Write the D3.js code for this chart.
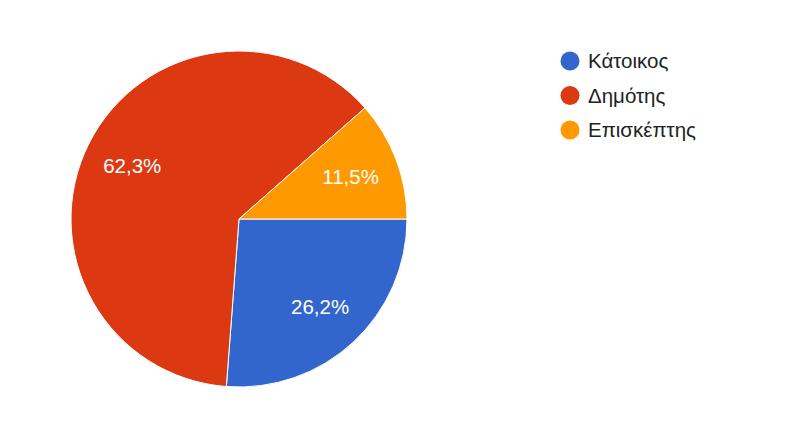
<!DOCTYPE html>
<html>
<head>
<meta charset="utf-8">
<script src="https://cdn.jsdelivr.net/npm/d3@7"></script>
<style>
  html, body { margin: 0; padding: 0; background: #fff; }
  svg { display: block; font-family: Arial, "Liberation Sans", sans-serif; }
</style>
</head>
<body>
<svg id="chart" width="804" height="424"></svg>
<script>
const categories = ["Κάτοικος", "Δημότης", "Επισκέπτης"];
const values = [26.2, 62.3, 11.5];
const labels = ["26,2%", "62,3%", "11,5%"];
const colors = ["#3366cc", "#dc3912", "#ff9900"];

const svg = d3.select("#chart");
const cx = 239, cy = 219, R = 168;

const pie = d3.pie().sort(null).value(d => d)
  .startAngle(Math.PI / 2).endAngle(Math.PI / 2 + 2 * Math.PI);
const arcs = pie(values);
const arc = d3.arc().innerRadius(0).outerRadius(R);
const labelArc = d3.arc().innerRadius(R * 0.71).outerRadius(R * 0.71);

const g = svg.append("g").attr("transform", `translate(${cx},${cy})`);
g.selectAll("path").data(arcs).enter().append("path")
  .attr("d", arc)
  .attr("fill", (d, i) => colors[i])
  .attr("stroke", "#fff")
  .attr("stroke-width", 1);

g.selectAll("text").data(arcs).enter().append("text")
  .attr("transform", d => `translate(${labelArc.centroid(d)})`)
  .attr("text-anchor", "middle")
  .attr("dy", "0.35em")
  .attr("fill", "#fff")
  .attr("font-size", 20.5)
  .text((d, i) => labels[i]);

const legendY = d3.scalePoint().domain(categories).range([61, 130]);
const lg = svg.append("g");
const items = lg.selectAll("g").data(categories).enter().append("g")
  .attr("transform", d => `translate(570,${legendY(d)})`);
items.append("circle").attr("r", 9.5).attr("fill", (d, i) => colors[i]);
items.append("text").attr("x", 18).attr("dy", "0.35em")
  .attr("font-size", 20.5).attr("fill", "#222").text(d => d);
</script>
</body>
</html>
